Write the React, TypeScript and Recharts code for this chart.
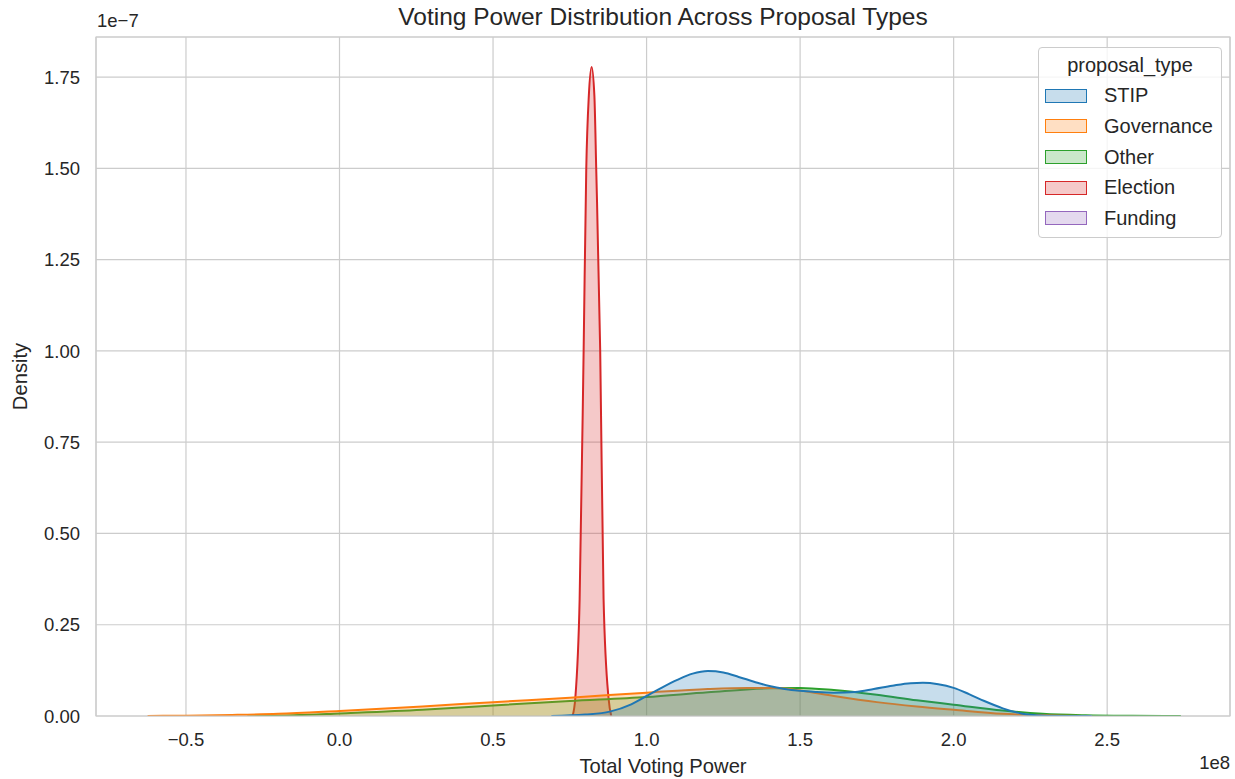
import React from 'react';
import { AreaChart, Area, XAxis, YAxis, CartesianGrid, ReferenceArea, Label } from 'recharts';

// x in units of 1e8 (Total Voting Power), y in units of 1e-7 (Density)
const stipX = [0.69, 0.8, 0.88, 0.95, 1.0, 1.05, 1.1, 1.15, 1.2, 1.25, 1.3, 1.35, 1.4, 1.45, 1.5, 1.55, 1.61, 1.68, 1.74, 1.8, 1.86, 1.9, 1.95, 2.0, 2.05, 2.1, 2.16, 2.22, 2.29, 2.37, 2.45];
const stipY = [0, 0.004, 0.012, 0.032, 0.055, 0.078, 0.099, 0.116, 0.123, 0.119, 0.107, 0.094, 0.082, 0.074, 0.069, 0.066, 0.064, 0.066, 0.074, 0.083, 0.09, 0.091, 0.087, 0.077, 0.06, 0.041, 0.021, 0.007, 0.0015, 0.0003, 0];

const governanceX = [-0.625, -0.5, -0.35, -0.2, 0.0, 0.27, 0.5, 0.75, 1.0, 1.2, 1.33, 1.42, 1.5, 1.61, 1.75, 1.88, 2.0, 2.16, 2.29, 2.45];
const governanceY = [0, 0.001, 0.003, 0.006, 0.014, 0.026, 0.038, 0.05, 0.064, 0.074, 0.077, 0.077, 0.07, 0.055, 0.038, 0.026, 0.017, 0.006, 0.002, 0];

const otherX = [-0.3, -0.15, 0.0, 0.27, 0.5, 0.75, 1.0, 1.2, 1.4, 1.5, 1.61, 1.75, 1.88, 2.0, 2.16, 2.29, 2.43, 2.58, 2.74];
const otherY = [0, 0.002, 0.007, 0.017, 0.029, 0.041, 0.052, 0.065, 0.076, 0.077, 0.071, 0.058, 0.043, 0.031, 0.015, 0.006, 0.002, 0.0005, 0];

const electionX = [0.759, 0.768, 0.782, 0.795, 0.8036, 0.812, 0.821, 0.83, 0.836, 0.849, 0.86, 0.876, 0.885];
const electionY = [0, 0.05, 0.32, 1.0, 1.5, 1.7, 1.778, 1.7, 1.5, 1.0, 0.32, 0.05, 0];

const legendNames = ['STIP', 'Governance', 'Other', 'Election', 'Funding'];
const legendColors = ['#1f77b4', '#ff7f0e', '#2ca02c', '#d62728', '#9467bd'];

const xTicks = [-0.5, 0, 0.5, 1.0, 1.5, 2.0, 2.5];
const yTicks = [0, 0.25, 0.5, 0.75, 1.0, 1.25, 1.5, 1.75];
const X_MIN = -0.793;
const X_MAX = 2.9;
const Y_MAX = 1.86;

const toPoints = (xs: number[], ys: number[]) => xs.map((x, i) => ({ x, y: ys[i] }));

const FONT = '"Liberation Sans", Arial, sans-serif';
const TEXT = '#262626';
const GRID = '#cccccc';

const fmtX = (v: number) => v.toFixed(1).replace('-', '\u2212');
const fmtY = (v: number) => v.toFixed(2);

export default function App() {
    const series = [
        { name: 'Election', color: legendColors[3], data: toPoints(electionX, electionY) },
        { name: 'Other', color: legendColors[2], data: toPoints(otherX, otherY) },
        { name: 'Governance', color: legendColors[1], data: toPoints(governanceX, governanceY) },
        { name: 'STIP', color: legendColors[0], data: toPoints(stipX, stipY) },
    ];
    return (
        <div style={{ position: 'absolute', left: 0, top: 0, width: 1235, height: 779, background: '#fff', fontFamily: FONT, color: TEXT }}>
            <AreaChart width={1235} height={779} margin={{ top: 37, right: 5, left: 0, bottom: 0 }}>
                <CartesianGrid stroke={GRID} strokeWidth={1.2} />
                <XAxis
                    dataKey="x"
                    type="number"
                    domain={[X_MIN, X_MAX]}
                    allowDataOverflow
                    ticks={xTicks}
                    tickFormatter={fmtX}
                    height={63}
                    axisLine={false}
                    tickLine={false}
                    tickSize={0}
                    tickMargin={17}
                    tick={{ fill: TEXT, fontSize: 18.5, fontFamily: FONT }}
                >
                    <Label value="Total Voting Power" position="insideBottom" offset={6} style={{ fill: TEXT, fontSize: 20.2, fontFamily: FONT }} />
                </XAxis>
                <YAxis
                    type="number"
                    domain={[0, Y_MAX]}
                    allowDataOverflow
                    ticks={yTicks}
                    tickFormatter={fmtY}
                    width={96}
                    axisLine={false}
                    tickLine={false}
                    tickSize={0}
                    tickMargin={16}
                    tick={{ fill: TEXT, fontSize: 18.5, fontFamily: FONT }}
                >
                    <Label
                        content={(props: any) => {
                            const vb = props.viewBox || {};
                            const cy = (vb.y ?? 37) + (vb.height ?? 679) / 2;
                            return (
                                <text x={20} y={cy} transform={`rotate(-90, 20, ${cy})`} textAnchor="middle" dominantBaseline="central" fill={TEXT} fontSize={20.2} fontFamily={FONT}>
                                    Density
                                </text>
                            );
                        }}
                    />
                </YAxis>
                {series.map((s) => (
                    <Area
                        key={s.name}
                        data={s.data}
                        dataKey="y"
                        name={s.name}
                        type="monotone"
                        stroke={s.color}
                        strokeWidth={2}
                        fill={s.color}
                        fillOpacity={0.25}
                        isAnimationActive={false}
                        dot={false}
                        activeDot={false}
                    />
                ))}
                <ReferenceArea x1={X_MIN} x2={X_MAX} y1={0} y2={Y_MAX} fill="none" stroke={GRID} strokeWidth={1.2} ifOverflow="visible" />
            </AreaChart>

            <div style={{ position: 'absolute', left: 96, width: 1134, top: 3, textAlign: 'center', fontSize: 24.5, lineHeight: '28px' }}>
                Voting Power Distribution Across Proposal Types
            </div>
            <div style={{ position: 'absolute', left: 97, top: 10, fontSize: 18.5, lineHeight: '22px' }}>1e{'\u2212'}7</div>
            <div style={{ position: 'absolute', right: 5, top: 752, fontSize: 18.5, lineHeight: '22px' }}>1e8</div>

            <div
                style={{
                    position: 'absolute',
                    left: 1038,
                    top: 47,
                    width: 182,
                    height: 189,
                    border: `1px solid ${GRID}`,
                    borderRadius: 4,
                    background: 'rgba(255,255,255,0.8)',
                    fontSize: 20,
                }}
            >
                <div style={{ height: 32.5, paddingTop: 2, lineHeight: '30px', textAlign: 'center', boxSizing: 'border-box' }}>proposal_type</div>
                {legendNames.map((name, i) => (
                    <div key={name} style={{ height: 30.67, display: 'flex', alignItems: 'center' }}>
                        <div
                            style={{
                                marginLeft: 6,
                                width: 42,
                                height: 14,
                                boxSizing: 'border-box',
                                border: `1.5px solid ${legendColors[i]}`,
                                background: legendColors[i] + '40',
                            }}
                        />
                        <span style={{ marginLeft: 17 }}>{name}</span>
                    </div>
                ))}
            </div>
        </div>
    );
}
